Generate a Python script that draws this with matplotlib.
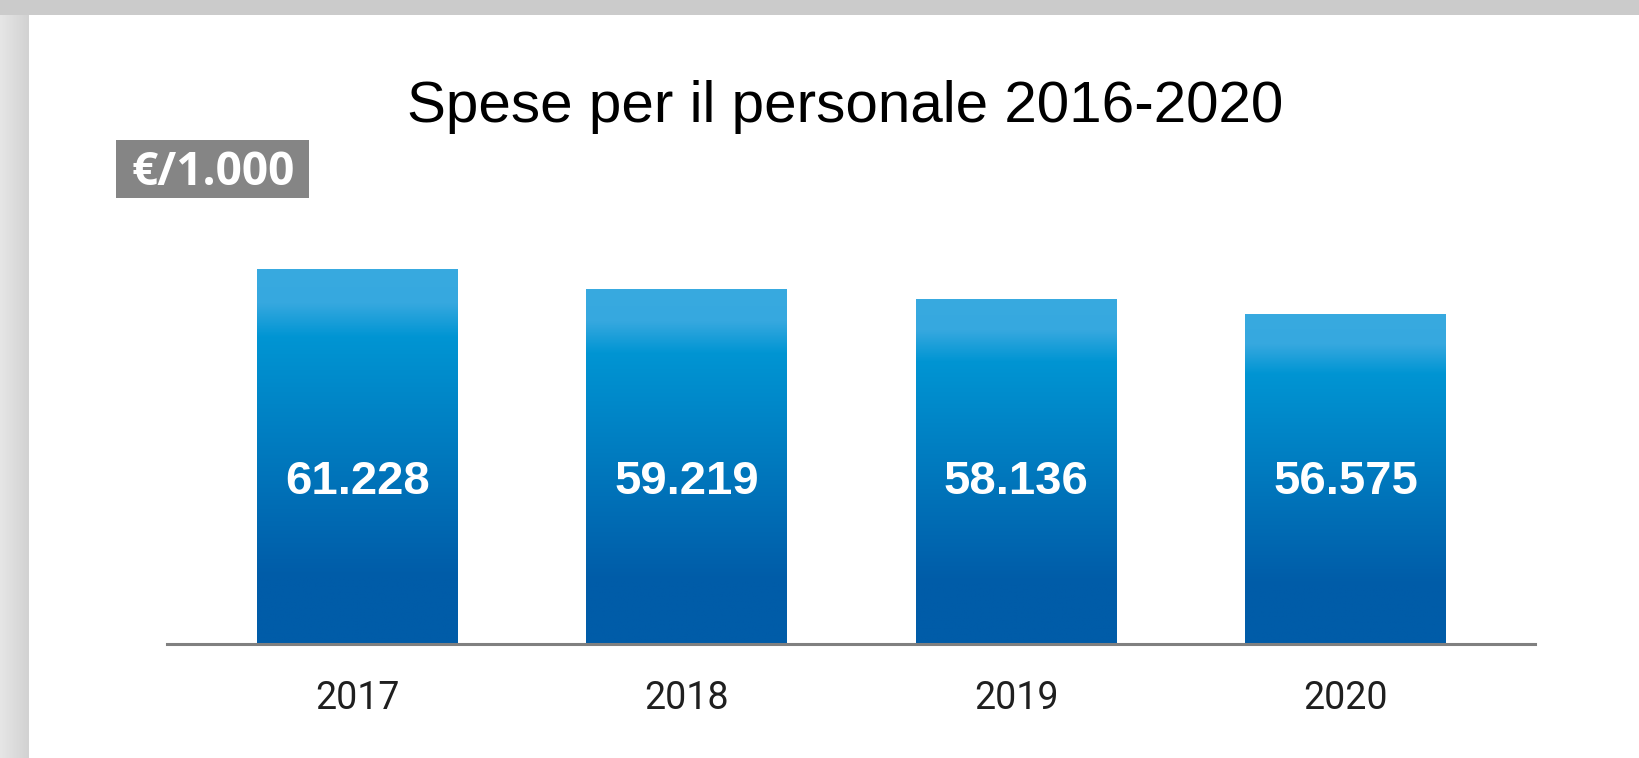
import numpy as np
import matplotlib.pyplot as plt
from matplotlib.colors import LinearSegmentedColormap
from matplotlib.patches import Rectangle
import matplotlib.transforms as mtransforms

years = ['2017', '2018', '2019', '2020']
spese = [61228, 59219, 58136, 56575]
etichette = ['61.228', '59.219', '58.136', '56.575']

W, H = 1640, 758
fig = plt.figure(figsize=(W / 100, H / 100), dpi=100)
fig.patch.set_facecolor('#cbcbcb')

# cornice grigia a sinistra con leggera sfumatura
bg = fig.add_axes([0, 0, 1, 1], zorder=-5)
bg.set_xlim(0, W)
bg.set_ylim(H, 0)
bg.axis('off')
strip = np.linspace(0, 1, 64).reshape(1, -1)
cm_strip = LinearSegmentedColormap.from_list('strip', ['#e6e6e6', '#dcdcdc', '#d2d2d2'])
bg.imshow(strip, cmap=cm_strip, extent=[0, 29, H, 15], aspect='auto')
bg.add_patch(Rectangle((29, 15), W - 29, H - 15, facecolor='white', edgecolor='none'))

# titolo
fig.text(845 / W, 1 - 107 / H, 'Spese per il personale 2016-2020', ha='center', va='center',
         fontsize=42, family='Liberation Sans', color='black')

# riquadro unità di misura
bg.add_patch(Rectangle((116, 140), 193, 58, facecolor='#858585', edgecolor='none'))
bg.text(213, 185, '€/1.000', ha='center', va='baseline', fontsize=33,
        family='Open Sans', weight='bold', color='white')

# area del grafico
ax_left, ax_right, ax_bottom, ax_top = 167, 1535, 644, 200
ax = fig.add_axes([ax_left / W, 1 - ax_bottom / H, (ax_right - ax_left) / W, (ax_bottom - ax_top) / H])
ax.patch.set_alpha(0)

ymin, ymax = 22800, 68350
x = np.arange(len(years))
width = 0.61

grad = LinearSegmentedColormap.from_list('barre', [
    (0.0, '#38aae0'),
    (0.09, '#36a8df'),
    (0.18, '#0095d3'),
    (0.82, '#005ca8'),
    (1.0, '#005ca8'),
])
col = np.linspace(0, 1, 256).reshape(-1, 1)

bars = ax.bar(x, spese, width=width, color='none', edgecolor='none')
for b, v in zip(bars, spese):
    x0 = b.get_x()
    ax.imshow(col, cmap=grad, extent=[x0, x0 + width, ymin, v], aspect='auto',
              origin='upper', zorder=2)

# etichette dei valori, tutte alla stessa altezza
trans = mtransforms.blended_transform_factory(ax.transData, ax.transAxes)
for xi, lab in zip(x, etichette):
    ax.text(xi, 0.365, lab, transform=trans, ha='center', va='center', fontsize=34,
            family='Liberation Sans', weight='bold', color='white', zorder=3)

ax.set_xlim(-0.578, 3.575)
ax.set_ylim(ymin, ymax)
ax.set_xticks(x)
ax.set_xticklabels(years, fontsize=27, family='Roboto', color='#1f1f1f')
ax.tick_params(axis='x', length=0, pad=26)
ax.set_yticks([])
for s in ['top', 'left', 'right']:
    ax.spines[s].set_visible(False)
ax.spines['bottom'].set_color('#808080')
ax.spines['bottom'].set_linewidth(2.2)
ax.spines['bottom'].set_zorder(4)

fig.savefig('out.png', dpi=100)
